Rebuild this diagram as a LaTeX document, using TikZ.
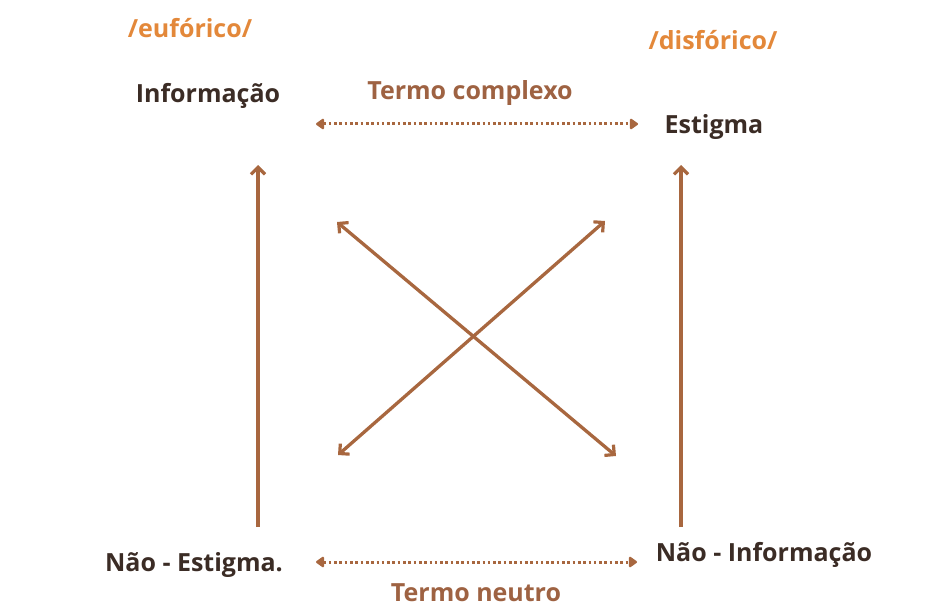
\documentclass[tikz,border=0pt]{standalone}
\usepackage{fontspec}
\setmainfont{Open Sans}
\usetikzlibrary{arrows.meta}
\definecolor{orangeT}{HTML}{E3883A}
\definecolor{brownA}{HTML}{A8673F}
\definecolor{darkT}{HTML}{3B2C25}
\definecolor{brownT}{HTML}{9E6242}
\tikzset{
  lbl/.style={font=\bfseries\fontsize{25}{28}\selectfont, inner sep=0pt},
  pole/.style={lbl, text=orangeT},
  term/.style={lbl, text=darkT},
  rel/.style={lbl, text=brownT},
  barb/.tip={Straight Barb[length=7pt,width=14pt,line width=3.2pt]},
  solidarr/.style={draw=brownA, line width=3.3pt, barb-barb},
  uparr/.style={draw=brownA, line width=3.3pt, -barb},
  dotarr/.style={draw=brownA, line width=3pt, dash pattern=on 2.6pt off 2.7pt, {Triangle[length=9pt,width=12pt,round]}-{Triangle[length=9pt,width=12pt,round]}}
}
\begin{document}
\begin{tikzpicture}[x=1pt,y=-1pt]
\useasboundingbox (0,0) rectangle (931,607);
\node[pole] (euf) at (190,28) {/eufórico/};
\node[pole] (disf) at (713,40) {/disfórico/};
\node[term] (info) at (208,96) {Informação};
\node[term] (estig) at (714,127) {Estigma};
\node[term] (naoest) at (194,565) {Não - Estigma.};
\node[term] (naoinf) at (764,555) {Não - Informação};
\node[rel] (tc) at (470,93) {Termo complexo};
\node[rel] (tn) at (476,593) {Termo neutro};
\coordinate (tcL) at (316,124);
\coordinate (tcR) at (638,124);
\coordinate (tnL) at (316,562);
\coordinate (tnR) at (637,562);
\coordinate (lvB) at (258,527);
\coordinate (lvT) at (258,165);
\coordinate (rvB) at (681,527);
\coordinate (rvT) at (681,165);
\coordinate (x1a) at (337,222);
\coordinate (x1b) at (616,456);
\coordinate (x2a) at (338,455);
\coordinate (x2b) at (605,221);
\draw[dotarr] (tcL) -- (tcR);
\draw[dotarr] (tnL) -- (tnR);
\draw[uparr] (lvB) -- (lvT);
\draw[uparr] (rvB) -- (rvT);
\draw[solidarr] (x1a) -- (x1b);
\draw[solidarr] (x2a) -- (x2b);
\end{tikzpicture}
\end{document}
